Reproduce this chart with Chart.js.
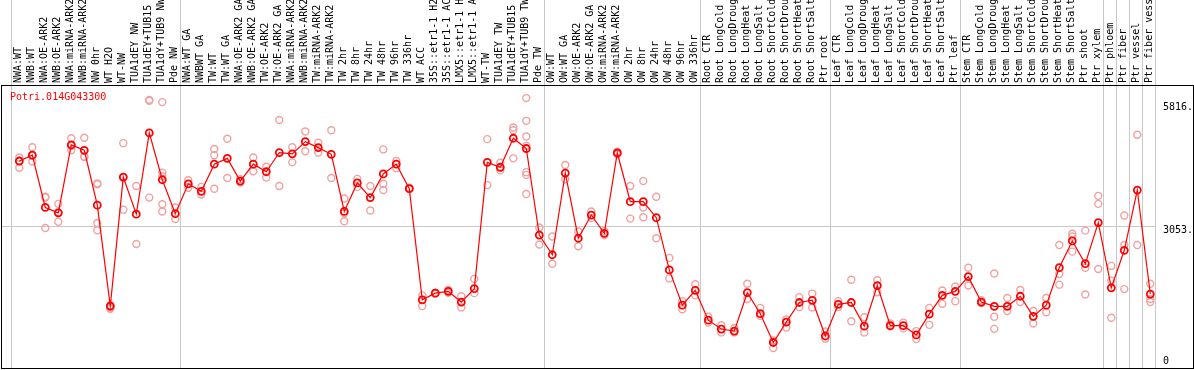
<!DOCTYPE html>
<html>
<head>
<meta charset="utf-8">
<title>Potri.014G043300</title>
<script src="https://cdn.jsdelivr.net/npm/chart.js@4.4.1/dist/chart.umd.min.js"></script>
<style>
    html, body { margin: 0; padding: 0; background: #fff; }
    canvas { display: block; }
</style>
</head>
<body>
<canvas id="exprChart" width="1194" height="370"></canvas>
<script>
// ============================================
// DATA
// ============================================

const geneName = 'Potri.014G043300';

const sampleLabels = [
    // NW
    'NWA:WT', 'NWB:WT', 'NWA:OE-ARK2', 'NWB:OE-ARK2', 'NWA:miRNA-ARK2', 'NWB:miRNA-ARK2',
    'NW 0hr', 'WT H2O', 'WT-NW', 'TUA1dEY NW', 'TUA1dEY+TUB15 NW', 'TUA1dY+TUB9 NW', 'Pde NW',
    // TW
    'NWA:WT GA', 'NWBWT GA', 'TW:WT', 'TW:WT GA', 'NWA:OE-ARK2 GA', 'NWB:OE-ARK2 GA',
    'TW:OE-ARK2', 'TW:OE-ARK2 GA', 'NWA:miRNA-ARK2', 'NWB:miRNA-ARK2', 'TW:miRNA-ARK2', 'TW:miRNA-ARK2',
    'TW 2hr', 'TW 8hr', 'TW 24hr', 'TW 48hr', 'TW 96hr', 'TW 336hr', 'WT ACC',
    '35S::etr1-1 H2O', '35S::etr1-1 ACC', 'LMX5::etr1-1 H2O', 'LMX5::etr1-1 ACC',
    'WT-TW', 'TUA1dEY TW', 'TUA1dEY+TUB15 TW', 'TUA1dY+TUB9 TW', 'Pde TW',
    // OW
    'OW:WT', 'OW:WT GA', 'OW:OE-ARK2', 'OW:OE-ARK2 GA', 'OW:miRNA-ARK2', 'OW:miRNA-ARK2',
    'OW 2hr', 'OW 8hr', 'OW 24hr', 'OW 48hr', 'OW 96hr', 'OW 336hr',
    // Root
    'Root CTR', 'Root LongCold', 'Root LongDrought', 'Root LongHeat', 'Root LongSalt',
    'Root ShortCold', 'Root ShortDrought', 'Root ShortHeat', 'Root ShortSalt', 'Ptr root',
    // Leaf
    'Leaf CTR', 'Leaf LongCold', 'Leaf LongDrought', 'Leaf LongHeat', 'Leaf LongSalt',
    'Leaf ShortCold', 'Leaf ShortDrought', 'Leaf ShortHeat', 'Leaf ShortSalt', 'Ptr leaf',
    // Stem
    'Stem CTR', 'Stem LongCold', 'Stem LongDrought', 'Stem LongHeat', 'Stem LongSalt',
    'Stem ShortCold', 'Stem ShortDrought', 'Stem ShortHeat', 'Stem ShortSalt', 'Ptr shoot', 'Ptr xylem',
    // single tissues
    'Ptr phloem', 'Ptr fiber', 'Ptr vessel', 'Ptr fiber vessel'
];

const groupSizes = [13, 28, 12, 10, 10, 11, 1, 1, 1, 1];

const meanValues = [
    4510, 4640, 3470, 3350, 4870, 4750, 3520, 1260, 4150, 3320, 5140, 4090, 3330,
    4000, 3830, 4440, 4570, 4060, 4440, 4270, 4700, 4670, 4945, 4810, 4660, 3380,
    4020, 3690, 4220, 4440, 3890, 1400, 1550, 1590, 1350, 1650, 4480, 4370, 5020, 4790,
    2850, 2410, 4240, 2780, 3300, 2890, 4690, 3600, 3600, 3240, 2070, 1280,
    1610, 945, 746, 700, 1560, 1090, 444, 900, 1340, 1390,
    590, 1300, 1340, 810, 1720, 820, 820, 614, 1080, 1500,
    1590, 1920, 1350, 1255, 1255, 1480, 1030, 1280, 2120, 2720, 2210,
    3130, 1670, 2510, 3860, 1530
];

const replicateValues = [
    [4590, 4510, 4360], [4820, 4630, 4500], [3710, 3690, 3010], [3550, 3360, 3150],
    [5020, 4850, 4750], [5030, 4610, 4600], [4010, 3990, 3120, 2960], [1280, 1230, 1200],
    [4910, 4140, 3420], [3950, 2650], [5880, 5860, 3690], [5830, 4250, 4170, 3540, 3380],
    [3470, 3210],
    [4080, 3910], [3930, 3760], [4780, 4640, 3890], [5010, 4130], [4100, 4030],
    [4590, 4280], [4380, 4140], [5430, 3950], [4820, 4480], [5170, 4730], [4920, 4700],
    [5200, 4130], [3670, 3340, 3160], [4110, 3930], [3950, 3400], [4770, 4000, 3860],
    [4510, 4350], [3910, 3880], [1500, 1260], [1560, 1540], [1620, 1560], [1480, 1230],
    [1870, 1550], [5000, 3970], [4470, 4300], [5260, 5200, 4570],
    [5920, 5410, 5060, 4850, 4260, 4200, 3770],
    [3020, 2640], [2820, 2210], [4420, 4100], [2930, 2600], [3380, 3230], [2940, 2850],
    [4720, 4660], [3950, 3220], [4060, 3470, 3250], [3710, 2780], [2340, 1880], [1370, 1190],
    [1750, 1500], [1020, 890], [830, 670], [770, 670], [1760, 1420], [1220, 1040],
    [490, 320], [960, 780], [1460, 1240], [1540, 1230],
    [690, 530], [1370, 1240], [1850, 920], [1010, 670], [1840, 1570], [870, 800],
    [890, 760], [700, 520], [1220, 840], [1610, 1310],
    [1700, 1370], [2120, 1720], [1390, 1330], [1990, 1020, 750], [1440, 1150],
    [1620, 1350], [1150, 870], [1440, 1120], [2630, 1980, 1740], [2880, 2820, 2480],
    [2950, 2120, 1520],
    [3730, 3550, 2090], [2160, 1830, 1000], [3290, 2630, 1640], [5100, 2630],
    [1760, 1420, 1350]
];

const yTickValues = [5816, 3053, 0];
const yTickLabels = ['5816.', '3053.', '0'];

// ============================================
// LAYOUT
// ============================================

const X_MIN = -0.638;
const X_MAX = 87.439;
const Y_MIN = -42;
const Y_MAX = 6213;
const FONT = '10px "DejaVu Sans Mono", monospace';

// ============================================
// PLUGIN: frame, separators, labels
// ============================================

const framePlugin = {
    id: 'frame',
    beforeDatasetsDraw(chart) {
        const { ctx, scales } = chart;
        const xs = scales.x;
        const ys = scales.y;
        ctx.save();
        ctx.strokeStyle = '#c8c8c8';
        ctx.lineWidth = 1;

        // group separators
        let edge = 0;
        const edges = [0];
        groupSizes.forEach(n => { edge += n; edges.push(edge); });
        edges.forEach(e => {
            const px = Math.round(xs.getPixelForValue(e + X_MIN)) + 0.5;
            ctx.beginPath();
            ctx.moveTo(px, 0);
            ctx.lineTo(px, 368);
            ctx.stroke();
        });

        // the only horizontal grid line
        const gy = Math.round(ys.getPixelForValue(yTickValues[1])) + 0.5;
        const right = Math.round(xs.getPixelForValue(88 + X_MIN)) + 0.5;
        ctx.beginPath();
        ctx.moveTo(1, gy);
        ctx.lineTo(right, gy);
        ctx.stroke();

        // black box around the plot
        ctx.strokeStyle = '#000';
        ctx.strokeRect(1.5, 85.5, 1192, 283);
        ctx.restore();
    },
    afterDraw(chart) {
        const { ctx, scales } = chart;
        const xs = scales.x;
        const ys = scales.y;
        ctx.save();
        ctx.font = FONT;

        // rotated sample names
        ctx.fillStyle = '#000';
        ctx.textAlign = 'left';
        ctx.textBaseline = 'middle';
        sampleLabels.forEach((label, i) => {
            const px = xs.getPixelForValue(i) - 1;
            ctx.save();
            ctx.translate(px, 83);
            ctx.rotate(-Math.PI / 2);
            ctx.fillText(label, 0, 0);
            ctx.restore();
        });

        // value labels on the right
        yTickValues.forEach((v, i) => {
            const py = Math.min(ys.getPixelForValue(v) + 4.5, 361.5);
            ctx.fillText(yTickLabels[i], 1163, py);
        });

        // gene name
        ctx.fillStyle = '#ff0000';
        ctx.fillText(geneName, 10, 97);
        ctx.restore();
    }
};

// ============================================
// CHART
// ============================================

const meanPoints = meanValues.map((v, i) => ({ x: i, y: v }));
const replicatePoints = replicateValues.flatMap((reps, i) => reps.map(v => ({ x: i, y: v })));

new Chart(document.getElementById('exprChart').getContext('2d'), {
    type: 'line',
    data: {
        datasets: [
            {
                label: geneName,
                data: meanPoints,
                borderColor: '#ff0000',
                borderWidth: 1.2,
                pointRadius: 3.5,
                pointBorderWidth: 1.8,
                pointBorderColor: '#ff0000',
                pointBackgroundColor: 'rgba(0,0,0,0)',
                tension: 0,
                fill: false
            },
            {
                label: 'replicates',
                data: replicatePoints,
                showLine: false,
                pointRadius: 3.5,
                pointBorderWidth: 1.4,
                pointBorderColor: '#f2a0a0',
                pointBackgroundColor: 'rgba(0,0,0,0)'
            }
        ]
    },
    options: {
        responsive: false,
        animation: false,
        devicePixelRatio: 1,
        layout: { padding: { left: 11, right: 38, top: 85, bottom: 2 } },
        plugins: {
            legend: { display: false },
            tooltip: { enabled: false }
        },
        scales: {
            x: { type: 'linear', min: X_MIN, max: X_MAX, display: false },
            y: { type: 'linear', min: Y_MIN, max: Y_MAX, display: false }
        }
    },
    plugins: [framePlugin]
});
</script>
</body>
</html>
